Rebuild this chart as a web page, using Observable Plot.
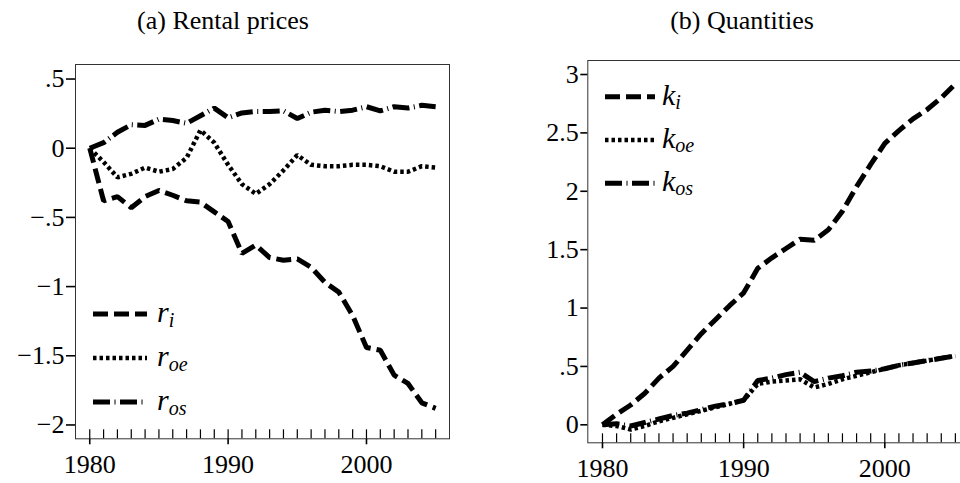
<!DOCTYPE html>
<html><head><meta charset="utf-8">
<script src="https://cdn.jsdelivr.net/npm/d3@7"></script>
<script src="https://cdn.jsdelivr.net/npm/@observablehq/plot@0.6"></script>
<style>
html,body{margin:0;padding:0;background:#fff;overflow:hidden;}
#wrap{position:relative;width:960px;height:483px;overflow:hidden;background:#fff;font-family:'Liberation Serif','Times New Roman',serif;}
.title{position:absolute;top:8px;font-size:26px;line-height:26px;white-space:nowrap;transform:translateX(-50%);color:#000;}
.panel{position:absolute;top:40px;}
</style></head><body>
<div id="wrap">
 <div class="title" style="left:223px">(a) Rental prices</div>
 <div class="title" style="left:742px">(b) Quantities</div>
 <div class="panel" id="pa" style="left:0;width:480px"></div>
 <div class="panel" id="pb" style="left:480px;width:520px"></div>
</div>
<script>
// ---- data ----
const years = [1980,1981,1982,1983,1984,1985,1986,1987,1988,1989,1990,1991,1992,1993,1994,1995,1996,1997,1998,1999,2000,2001,2002,2003,2004,2005];
const xMajorTicks = [1980, 1990, 2000];
const xMajorLabels = ["1980", "1990", "2000"];

const r_i  = [0,-0.38,-0.35,-0.43,-0.35,-0.305,-0.34,-0.38,-0.39,-0.46,-0.53,-0.76,-0.70,-0.79,-0.81,-0.80,-0.86,-0.97,-1.04,-1.21,-1.44,-1.46,-1.64,-1.70,-1.84,-1.88];
const r_oe = [0,-0.10,-0.21,-0.185,-0.14,-0.17,-0.15,-0.07,0.13,0.04,-0.12,-0.26,-0.33,-0.26,-0.16,-0.05,-0.12,-0.13,-0.13,-0.12,-0.12,-0.13,-0.17,-0.17,-0.13,-0.14];
const r_os = [0,0.04,0.115,0.17,0.165,0.21,0.20,0.18,0.235,0.29,0.22,0.255,0.265,0.265,0.27,0.215,0.26,0.275,0.265,0.275,0.30,0.27,0.30,0.29,0.31,0.30];

const k_i  = [0,0.09,0.17,0.27,0.40,0.50,0.64,0.78,0.90,1.02,1.13,1.34,1.43,1.51,1.59,1.58,1.67,1.83,2.04,2.23,2.41,2.52,2.62,2.70,2.80,2.92];
const k_oe = [0,-0.01,-0.04,-0.01,0.03,0.06,0.09,0.12,0.15,0.18,0.21,0.35,0.37,0.38,0.39,0.32,0.35,0.39,0.42,0.45,0.48,0.51,0.53,0.55,0.57,0.59];
const k_os = [0,0.01,-0.01,0.02,0.05,0.08,0.10,0.13,0.16,0.18,0.21,0.38,0.40,0.43,0.45,0.37,0.40,0.42,0.45,0.46,0.48,0.51,0.53,0.55,0.57,0.59];

const yTicksA = [0.5, 0, -0.5, -1, -1.5, -2];
const yLabelsA = [".5", "0", "\u2212.5", "\u22121", "\u22121.5", "\u22122"];
const yTicksB = [3, 2.5, 2, 1.5, 1, 0.5, 0];
const yLabelsB = ["3", "2.5", "2", "1.5", "1", ".5", "0"];

const legendA = [["r", "i"], ["r", "oe"], ["r", "os"]];
const legendB = [["k", "i"], ["k", "oe"], ["k", "os"]];

// ---- styles ----
const FONT = "'Liberation Serif','Times New Roman',serif";
const lineStyles = [
  {strokeDasharray: "15,6", strokeWidth: 5},
  {strokeDasharray: "3.5,3", strokeWidth: 4.5},
  {strokeDasharray: "17,4.5,1,4.5", strokeWidth: 5}
];

function makePanel(cfg) {
  const innerH = cfg.height - cfg.mt - cfg.mb;
  const lineMarks = cfg.series.map((vals, s) =>
    Plot.line(years.map((y, i) => ({year: y, value: vals[i]})), {
      x: "year", y: "value", stroke: "#000",
      strokeLinecap: "butt", strokeLinejoin: "miter",
      ...lineStyles[s]
    })
  );
  const svg = Plot.plot({
    width: cfg.width, height: cfg.height,
    marginTop: cfg.mt, marginRight: cfg.mr, marginBottom: cfg.mb, marginLeft: cfg.ml,
    style: {fontSize: "26px", background: "transparent", maxWidth: "none", overflow: "visible", color: "#000"},
    x: {domain: cfg.xDomain, label: null},
    y: {domain: cfg.yDomain, label: null},
    marks: [
      Plot.frame({stroke: "#333", strokeWidth: 1}),
      Plot.tickX(years, {x: d => d, insetTop: innerH - 9, stroke: "#000", strokeWidth: 1.2}),
      Plot.axisX({ticks: xMajorTicks, tickSize: 6, tickPadding: cfg.xPad, line: true, strokeWidth: 1.6, label: null,
        tickFormat: d => xMajorLabels[xMajorTicks.indexOf(d)], fontSize: 26}),
      Plot.axisY({ticks: cfg.yTicks, tickSize: cfg.yTickSize, tickPadding: 2, line: true, strokeWidth: 1.6, label: null,
        tickFormat: d => cfg.yLabels[cfg.yTicks.indexOf(d)], fontSize: 26}),
      ...lineMarks
    ]
  });
  // legend
  const g = d3.select(svg).append("g").attr("class", "legend").attr("text-anchor", "start");
  cfg.legend.forEach(([main, sub], s) => {
    const y = cfg.legY + s * cfg.legStep;
    g.append("line")
      .attr("x1", cfg.legX1).attr("x2", cfg.legX2).attr("y1", y).attr("y2", y)
      .attr("stroke", "#000").attr("stroke-width", lineStyles[s].strokeWidth)
      .attr("stroke-dasharray", lineStyles[s].strokeDasharray).attr("stroke-linecap", "butt");
    const t = g.append("text")
      .attr("x", cfg.legTextX).attr("y", y + 8)
      .attr("text-anchor", "start")
      .attr("font-size", 30).attr("fill", "#000")
      .style("font-style", "italic")
      .text(main);
    t.append("tspan").attr("dy", cfg.subDy).attr("font-size", 20).text(sub);
  });
  // force serif font on every text
  d3.select(svg).attr("font-family", FONT).style("font-family", FONT);
  d3.select(svg).selectAll("text, tspan").attr("font-family", FONT).style("font-family", FONT);
  return svg;
}

document.getElementById("pa").appendChild(makePanel({
  width: 480, height: 443, mt: 24, mr: 31, mb: 44.7, ml: 75,
  xDomain: [1978.97, 2006.0], yDomain: [-2.1, 0.605], xPad: 10,
  yTicks: yTicksA, yLabels: yLabelsA, yTickSize: 9,
  series: [r_i, r_oe, r_os], legend: legendA,
  legX1: 93, legX2: 147, legY: 274, legStep: 44, legTextX: 157, subDy: 5
}));

document.getElementById("pb").appendChild(makePanel({
  width: 520, height: 443, mt: 20, mr: 31, mb: 40.7, ml: 107.3,
  xDomain: [1978.96, 2006.0], yDomain: [-0.154, 3.12], xPad: 9.5,
  yTicks: yTicksB, yLabels: yLabelsB, yTickSize: 7,
  series: [k_i, k_oe, k_os], legend: legendB,
  legX1: 125, legX2: 175, legY: 56.7, legStep: 43.3, legTextX: 182, subDy: 4
}));
</script>
</body></html>
